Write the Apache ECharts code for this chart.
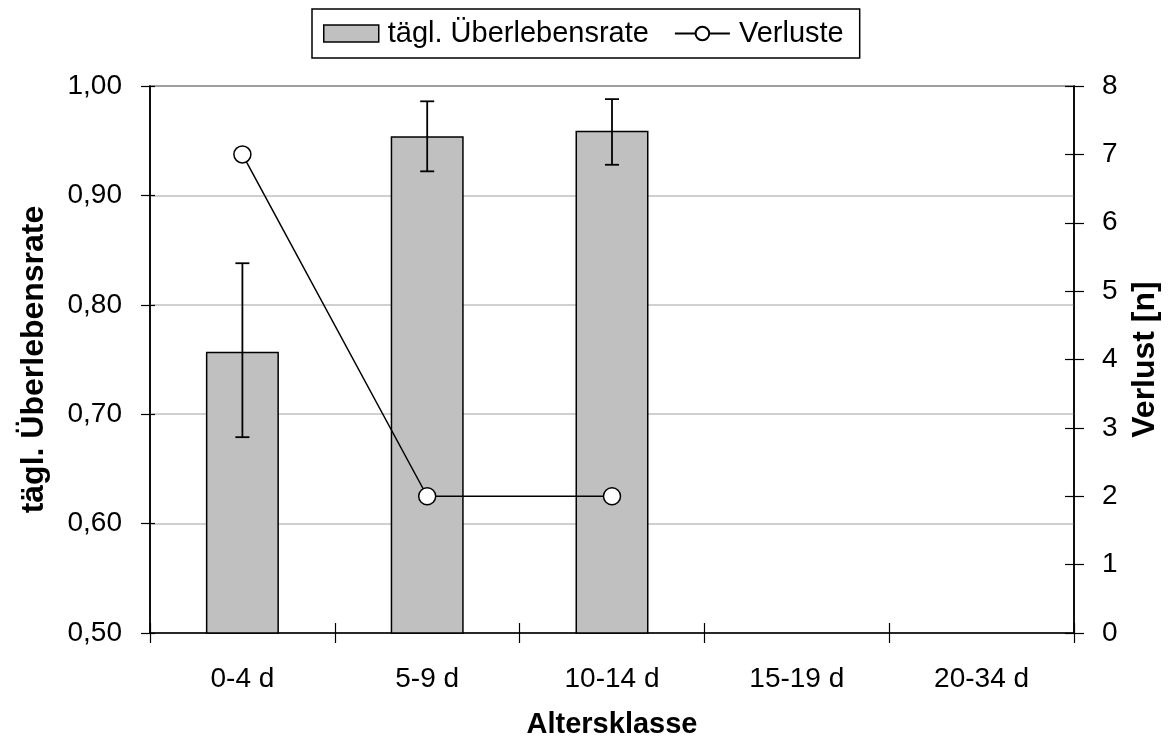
<!DOCTYPE html>
<html>
<head>
<meta charset="utf-8">
<script src="https://cdn.jsdelivr.net/npm/echarts@6/dist/echarts.min.js"></script>
<style>
  html, body { margin: 0; padding: 0; background: #fff; }
  #chart { width: 1173px; height: 744px; }
</style>
</head>
<body>
<div id="chart"></div>
<script>
// Altersklassen und Messwerte
const categories = ['0-4 d', '5-9 d', '10-14 d', '15-19 d', '20-34 d'];
const survivalRate = [0.757, 0.954, 0.959, null, null];   // tägl. Überlebensrate
const errorLow = [0.679, 0.922, 0.928, null, null];        // untere Fehlergrenze
const errorHigh = [0.838, 0.986, 0.988, null, null];       // obere Fehlergrenze
const losses = [7, 2, 2, null, null];                      // Verluste [n]

const FONT = "'Liberation Sans', Arial, sans-serif";
const fmtComma = v => v.toFixed(2).replace('.', ',');

const errorData = categories.map((c, i) =>
  errorLow[i] == null ? [i, null, null] : [i, errorLow[i], errorHigh[i]]);

const chart = echarts.init(document.getElementById('chart'), null, { renderer: 'canvas' });

chart.setOption({
  animation: false,
  backgroundColor: '#fff',
  textStyle: { fontFamily: FONT },
  legend: {
    top: 9,
    left: 312,
    orient: 'horizontal',
    borderColor: '#000',
    borderWidth: 1.5,
    padding: [10, 16, 10, 11],
    itemGap: 25,
    itemWidth: 55,
    itemHeight: 17,
    textStyle: { fontFamily: FONT, fontSize: 29, color: '#000', padding: [0, 0, 0, 4] },
    data: [
      { name: 'tägl. Überlebensrate', icon: 'rect',
        itemStyle: { color: '#c0c0c0', borderColor: '#000', borderWidth: 1.5 } },
      { name: 'Verluste' }
    ]
  },
  grid: {
    left: 150, right: 99, top: 86, bottom: 111,
    outerBoundsMode: 'none',
    containLabel: false,
    show: true, borderColor: '#000', borderWidth: 1.5, backgroundColor: 'transparent'
  },
  xAxis: [
    {
      type: 'category',
      data: categories,
      boundaryGap: true,
      axisLine: { lineStyle: { color: '#000', width: 1.5 } },
      axisTick: { show: true, length: 10, lineStyle: { color: '#000', width: 1.2 } },
      axisLabel: { color: '#000', fontSize: 28, fontFamily: FONT, margin: 32 },
      name: 'Altersklasse',
      nameLocation: 'middle',
      nameGap: 77,
      nameTextStyle: { color: '#000', fontSize: 29, fontWeight: 'bold', fontFamily: FONT }
    },
    {
      // inner half of the crossing category ticks
      type: 'category',
      data: categories,
      position: 'bottom',
      boundaryGap: true,
      axisLine: { show: false },
      axisTick: { show: true, inside: true, length: 10, lineStyle: { color: '#000', width: 1.2 } },
      axisLabel: { show: false }
    }
  ],
  yAxis: [
    {
      type: 'value',
      position: 'left',
      min: 0.5, max: 1.0, interval: 0.1,
      axisLine: { show: true, lineStyle: { color: '#000', width: 1.5 } },
      axisTick: { show: true, length: 9, lineStyle: { color: '#000', width: 1.2 } },
      axisLabel: { color: '#000', fontSize: 28, fontFamily: FONT, margin: 28, formatter: fmtComma },
      splitLine: { show: true, lineStyle: { color: '#c0c0c0', width: 1.5 } },
      name: 'tägl. Überlebensrate',
      nameLocation: 'middle',
      nameRotate: 90,
      nameGap: 100,
      nameTextStyle: { color: '#000', fontSize: 32, fontWeight: 'bold', fontFamily: FONT }
    },
    {
      type: 'value',
      position: 'right',
      min: 0, max: 8, interval: 1,
      axisLine: { show: true, lineStyle: { color: '#000', width: 1.5 } },
      axisTick: { show: true, length: 10, lineStyle: { color: '#000', width: 1.2 } },
      axisLabel: { color: '#000', fontSize: 28, fontFamily: FONT, margin: 28 },
      splitLine: { show: false },
      name: 'Verlust [n]',
      nameLocation: 'middle',
      nameRotate: 90,
      nameGap: 55,
      nameTextStyle: { color: '#000', fontSize: 32, fontWeight: 'bold', fontFamily: FONT }
    },
    {
      // inner half of the crossing ticks, left axis
      type: 'value',
      position: 'left',
      min: 0.5, max: 1.0, interval: 0.1,
      axisLine: { show: false },
      axisTick: { show: true, inside: true, length: 5, lineStyle: { color: '#000', width: 1.2 } },
      axisLabel: { show: false },
      splitLine: { show: false }
    },
    {
      // inner half of the crossing ticks, right axis
      type: 'value',
      position: 'right',
      min: 0, max: 8, interval: 1,
      axisLine: { show: false },
      axisTick: { show: true, inside: true, length: 9, lineStyle: { color: '#000', width: 1.2 } },
      axisLabel: { show: false },
      splitLine: { show: false }
    }
  ],
  series: [
    {
      name: 'tägl. Überlebensrate',
      type: 'bar',
      xAxisIndex: 0,
      yAxisIndex: 0,
      data: survivalRate,
      barWidth: '39.5%',
      itemStyle: { color: '#c0c0c0', borderColor: '#000', borderWidth: 1.5 },
      z: 2
    },
    {
      name: 'Fehler',
      type: 'custom',
      xAxisIndex: 0,
      yAxisIndex: 0,
      data: errorData,
      z: 3,
      renderItem: function (params, api) {
        const lo = api.value(1), hi = api.value(2);
        if (lo == null || hi == null || isNaN(lo) || isNaN(hi)) return null;
        const pLo = api.coord([api.value(0), lo]);
        const pHi = api.coord([api.value(0), hi]);
        const half = 7;
        const style = { stroke: '#000', lineWidth: 1.8, fill: null };
        return {
          type: 'group',
          children: [
            { type: 'line', shape: { x1: pLo[0], y1: pLo[1], x2: pHi[0], y2: pHi[1] }, style },
            { type: 'line', shape: { x1: pHi[0] - half, y1: pHi[1], x2: pHi[0] + half, y2: pHi[1] }, style },
            { type: 'line', shape: { x1: pLo[0] - half, y1: pLo[1], x2: pLo[0] + half, y2: pLo[1] }, style }
          ]
        };
      }
    },
    {
      name: 'Verluste',
      type: 'line',
      xAxisIndex: 0,
      yAxisIndex: 1,
      data: losses,
      symbol: 'circle',
      symbolSize: 17,
      lineStyle: { color: '#000', width: 1.5 },
      itemStyle: { color: '#fff', borderColor: '#000', borderWidth: 1.5 },
      z: 4
    }
  ]
});
</script>
</body>
</html>
